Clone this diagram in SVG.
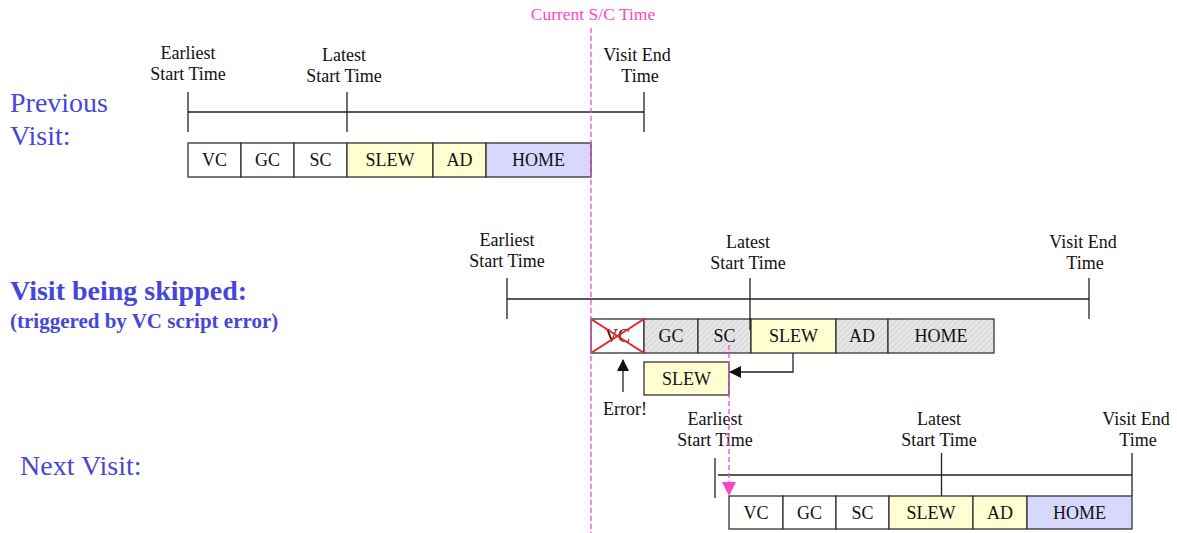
<svg xmlns="http://www.w3.org/2000/svg" width="1177" height="533" viewBox="0 0 1177 533">
<style>
text{font-family:"Liberation Serif","Times New Roman",serif;fill:#111}
.lbl{font-size:18px;text-anchor:middle}
.box{font-size:18px;text-anchor:middle}
.ttl{fill:#4646d8;font-size:28px}
.ln{stroke:#222;stroke-width:1.3;fill:none}
.b{stroke:#333;stroke-width:1.3}
.w{fill:#fff}
.y{fill:#ffffd2}
.p{fill:#d8d8ff}
.h{fill:url(#hatch)}
.pk{stroke:#ff44cc;stroke-width:1.3;stroke-dasharray:5,3;fill:none}
</style>
<defs>
<pattern id="hatch" width="4" height="4" patternUnits="userSpaceOnUse" patternTransform="rotate(45)">
<rect width="4" height="4" fill="#e6e6e6"/>
<line x1="0" y1="0" x2="0" y2="4" stroke="#c8c8c8" stroke-width="1.2"/>
</pattern>
<marker id="ah" markerWidth="12" markerHeight="12" refX="11" refY="6" orient="auto" markerUnits="userSpaceOnUse">
<path d="M0,0 L12,6 L0,12 Z" fill="#111"/>
</marker>
<marker id="ahp" markerWidth="14" markerHeight="14" refX="13" refY="7" orient="auto" markerUnits="userSpaceOnUse">
<path d="M0,0 L14,7 L0,14 Z" fill="#ff44cc"/>
</marker>
</defs>
<rect width="1177" height="533" fill="#fff"/>

<g id="titles">
<text class="ttl" x="10" y="112">Previous</text>
<text class="ttl" x="10" y="145">Visit:</text>
<text class="ttl" x="10" y="300" style="font-weight:bold;font-size:28px">Visit being skipped:</text>
<text class="ttl" x="10" y="328" style="font-weight:bold;font-size:21px">(triggered by VC script error)</text>
<text class="ttl" x="20" y="475" style="font-size:28px">Next Visit:</text>
</g>

<g id="current-time">
<text x="593" y="20" style="fill:#ff44cc;font-size:17.5px;text-anchor:middle">Current S/C Time</text>
</g>

<g id="previous-visit">
<line class="ln" x1="188" y1="92" x2="188" y2="132"/>
<line class="ln" x1="347" y1="92" x2="347" y2="132"/>
<line class="ln" x1="644" y1="92" x2="644" y2="132"/>
<line class="ln" x1="188" y1="112" x2="644" y2="112"/>
<text class="lbl" x="188" y="59">Earliest</text>
<text class="lbl" x="188" y="80">Start Time</text>
<text class="lbl" x="344" y="61">Latest</text>
<text class="lbl" x="344" y="82">Start Time</text>
<text class="lbl" x="637" y="61">Visit End</text>
<text class="lbl" x="640" y="82">Time</text>
<rect class="b w" x="188" y="143" width="53" height="34"/>
<rect class="b w" x="241" y="143" width="53" height="34"/>
<rect class="b w" x="294" y="143" width="53" height="34"/>
<rect class="b y" x="347" y="143" width="86" height="34"/>
<rect class="b y" x="433" y="143" width="53" height="34"/>
<rect class="b p" x="486" y="143" width="105" height="34"/>
<text class="box" x="214.5" y="166">VC</text>
<text class="box" x="267.5" y="166">GC</text>
<text class="box" x="320.5" y="166">SC</text>
<text class="box" x="390" y="166">SLEW</text>
<text class="box" x="459.5" y="166">AD</text>
<text class="box" x="538.5" y="166">HOME</text>
</g>

<g id="skipped-visit">
<line class="ln" x1="507" y1="278" x2="507" y2="319"/>
<line class="ln" x1="1089" y1="278" x2="1089" y2="319"/>
<line class="ln" x1="507" y1="299" x2="1089" y2="299"/>
<text class="lbl" x="507" y="246">Earliest</text>
<text class="lbl" x="507" y="267">Start Time</text>
<text class="lbl" x="748" y="248">Latest</text>
<text class="lbl" x="748" y="269">Start Time</text>
<text class="lbl" x="1083" y="248">Visit End</text>
<text class="lbl" x="1085" y="269">Time</text>
<rect class="b w" x="591" y="319" width="53" height="34"/>
<rect class="b h" x="644" y="319" width="54" height="34"/>
<rect class="b h" x="698" y="319" width="53" height="34"/>
<rect class="b y" x="751" y="319" width="85" height="34"/>
<rect class="b h" x="836" y="319" width="52" height="34"/>
<rect class="b h" x="888" y="319" width="106" height="34"/>
<line class="ln" x1="750" y1="278" x2="750" y2="330"/>
<text class="box" x="617.5" y="342">VC</text>
<line x1="591" y1="319" x2="644" y2="353" stroke="#ee2222" stroke-width="2"/>
<line x1="591" y1="353" x2="644" y2="319" stroke="#ee2222" stroke-width="2"/>
<text class="box" x="671" y="342">GC</text>
<text class="box" x="724.5" y="342">SC</text>
<text class="box" x="793.5" y="342">SLEW</text>
<text class="box" x="862" y="342">AD</text>
<text class="box" x="941" y="342">HOME</text>
</g>

<g id="slew-moved">
<rect class="b y" x="644" y="362" width="85" height="33"/>
<text class="box" x="686.5" y="385">SLEW</text>
</g>

<g id="error">
<text class="lbl" x="625" y="415">Error!</text>
</g>

<g id="next-visit">
<line class="ln" x1="715" y1="458" x2="715" y2="498"/>
<line class="ln" x1="941.5" y1="453" x2="941.5" y2="496"/>
<line class="ln" x1="1132" y1="453" x2="1132" y2="496"/>
<line class="ln" x1="718" y1="475" x2="1132" y2="475"/>
<text class="lbl" x="715" y="425">Earliest</text>
<text class="lbl" x="715" y="446">Start Time</text>
<text class="lbl" x="939" y="425">Latest</text>
<text class="lbl" x="939" y="446">Start Time</text>
<text class="lbl" x="1136" y="425">Visit End</text>
<text class="lbl" x="1138" y="446">Time</text>
<rect class="b w" x="729" y="496" width="54" height="33"/>
<rect class="b w" x="783" y="496" width="53" height="33"/>
<rect class="b w" x="836" y="496" width="53" height="33"/>
<rect class="b y" x="889" y="496" width="84" height="33"/>
<rect class="b y" x="973" y="496" width="54" height="33"/>
<rect class="b p" x="1027" y="496" width="105" height="33"/>
<text class="box" x="756" y="519">VC</text>
<text class="box" x="809.5" y="519">GC</text>
<text class="box" x="862.5" y="519">SC</text>
<text class="box" x="931" y="519">SLEW</text>
<text class="box" x="1000" y="519">AD</text>
<text class="box" x="1079.5" y="519">HOME</text>
</g>

<g id="connectors">
<line class="pk" x1="591" y1="28" x2="591" y2="533"/>
<path class="pk" d="M729,345 L729,495" marker-end="url(#ahp)"/>
<path class="ln" d="M793,353 L793,372 L730,372" marker-end="url(#ah)"/>
<path class="ln" d="M623,392 L623,360" marker-end="url(#ah)"/>
</g>
</svg>
